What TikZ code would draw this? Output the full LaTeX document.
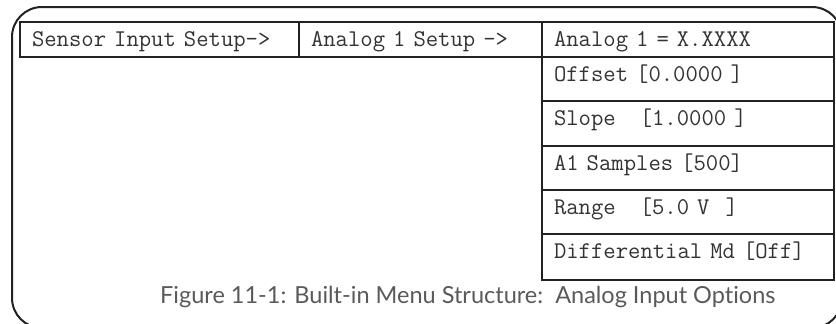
\documentclass[tikz,border=0pt]{standalone}
\usepackage{fontspec}
\newfontfamily\capfont[Ligatures=NoCommon]{Lato}
\definecolor{linec}{HTML}{222222}
\definecolor{textc}{HTML}{333333}
\definecolor{capc}{HTML}{5A5A5A}
\tikzset{
  cell/.style={draw=linec, line width=2.5pt, anchor=north west, inner xsep=12pt, inner ysep=0pt,
    text height=24pt, text width=#1-24pt, align=left, outer sep=0pt,
    font=\fontsize{24}{26}\ttfamily, text=textc},
  rowa/.style={text depth=11pt},
  rowb/.style={text depth=20pt},
  rowc/.style={text depth=21pt},
  rowd/.style={text depth=22pt},
  frame/.style={draw=linec, line width=2pt, rounded corners=30pt},
  caption/.style={font=\fontsize{23.5}{26}\capfont, text=capc, anchor=base west, inner sep=0pt}
}
\begin{document}
\begin{tikzpicture}[x=1pt,y=-1pt]
\useasboundingbox (0,0) rectangle (836,324);
\clip (0,0) rectangle (836,324);
\draw[frame] (12,7) rectangle (842,328);
\node[cell=279pt, rowa] (c1) at (20,22) {Sensor Input Setup->};
\node[cell=243pt, rowa] (c2) at (299,22) {Analog 1 Setup ->};
\node[cell=292pt, rowa] (c3) at (542,22) {Analog 1 = X.XXXX};
\node[cell=292pt, rowb] (r2) at (c3.south west) {Offset [0.0000 ]};
\node[cell=292pt, rowc] (r3) at (r2.south west) {Slope\ \ \ [1.0000 ]};
\node[cell=292pt, rowb] (r4) at (r3.south west) {A1 Samples [500]};
\node[cell=292pt, rowb] (r5) at (r4.south west) {Range\ \ \ [5.0 V\ \ ]};
\node[cell=292pt, rowd] (r6) at (r5.south west) {Differential Md [Off]};
\node[caption] (cap) at (160,303) {Figure 11-1: Built-in Menu Structure:\ \ Analog Input Options};
\end{tikzpicture}
\end{document}
